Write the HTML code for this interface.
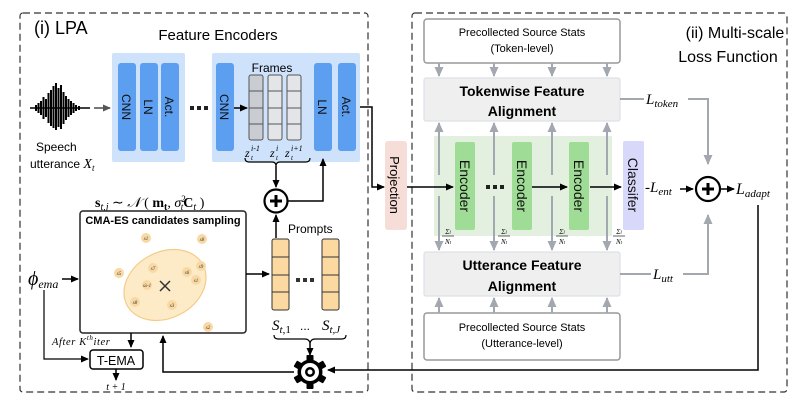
<!DOCTYPE html>
<html><head><meta charset="utf-8"><style>
body{margin:0;background:#fff}
svg{display:block;font-family:"Liberation Sans",sans-serif}
.m{font-family:"Liberation Serif",serif;font-style:italic}
</style></head><body>
<svg width="792" height="401" viewBox="0 0 792 401" xmlns="http://www.w3.org/2000/svg">
<defs>
<marker id="a" markerWidth="8" markerHeight="8" refX="7" refY="4" orient="auto" markerUnits="userSpaceOnUse"><path d="M0,0.5 L8,4 L0,7.5z" fill="#000"/></marker>
<marker id="g" markerWidth="10" markerHeight="9" refX="9" refY="4.5" orient="auto" markerUnits="userSpaceOnUse"><path d="M0,0 L10,4.5 L0,9z" fill="#a3a8b0"/></marker>
<marker id="d" markerWidth="8" markerHeight="8" refX="7" refY="4" orient="auto" markerUnits="userSpaceOnUse"><path d="M0,0.5 L8,4 L0,7.5z" fill="#555"/></marker>
</defs>
<rect x="20" y="13" width="348" height="379" rx="3" fill="none" stroke="#333" stroke-width="1.2" stroke-dasharray="7,4"/>
<rect x="412" y="13" width="375" height="379" rx="3" fill="none" stroke="#333" stroke-width="1.2" stroke-dasharray="7,4"/>
<text x="34" y="34" font-size="18">(i) LPA</text>
<text x="218" y="40" font-size="15" text-anchor="middle">Feature Encoders</text>
<text x="735" y="38" font-size="16" text-anchor="middle">(ii) Multi-scale</text>
<text x="728" y="62" font-size="16" text-anchor="middle">Loss Function</text>

<!-- waveform -->
<g stroke="#000" stroke-width="2">
<line x1="30" y1="108" x2="90" y2="108" stroke-width="1.5"/>
<line x1="36" y1="105" x2="36" y2="111"/><line x1="38.5" y1="103" x2="38.5" y2="113"/><line x1="41" y1="101" x2="41" y2="115"/>
<line x1="43.5" y1="97" x2="43.5" y2="119"/><line x1="46" y1="99" x2="46" y2="117"/><line x1="48.5" y1="93" x2="48.5" y2="123"/>
<line x1="51" y1="90" x2="51" y2="126"/><line x1="53.5" y1="86" x2="53.5" y2="128"/><line x1="56" y1="83" x2="56" y2="130"/>
<line x1="58.5" y1="88" x2="58.5" y2="127"/><line x1="61" y1="85" x2="61" y2="129"/><line x1="63.5" y1="92" x2="63.5" y2="124"/>
<line x1="66" y1="96" x2="66" y2="120"/><line x1="68.5" y1="99" x2="68.5" y2="117"/><line x1="71" y1="101" x2="71" y2="115"/>
<line x1="73.5" y1="103" x2="73.5" y2="113"/><line x1="76" y1="105" x2="76" y2="111"/><line x1="79" y1="106" x2="79" y2="110"/>
</g>
<line x1="94" y1="108" x2="110" y2="108" stroke="#555" stroke-width="1.6" marker-end="url(#d)"/>
<text x="36" y="151" font-size="12">Speech</text>
<text x="30" y="168" font-size="12">utterance <tspan class="m" font-size="14">X<tspan font-size="9" dy="3">t</tspan></tspan></text>

<rect x="112" y="53" width="73" height="109" rx="2" fill="#cfe2fb"/>
<rect x="212" y="53" width="148" height="109" rx="2" fill="#cfe2fb"/>
<g fill="#5c9ef0">
<rect x="118" y="63" width="18" height="88" rx="3"/><rect x="140" y="63" width="18" height="88" rx="3"/><rect x="161" y="63" width="18" height="88" rx="3"/>
<rect x="216" y="63" width="18" height="88" rx="3"/><rect x="314" y="63" width="18" height="88" rx="3"/><rect x="338" y="63" width="18" height="88" rx="3"/>
</g>
<g font-size="12" fill="#111">
<text transform="translate(122,107) rotate(90)" text-anchor="middle">CNN</text>
<text transform="translate(144,107) rotate(90)" text-anchor="middle">LN</text>
<text transform="translate(165,107) rotate(90)" text-anchor="middle">Act.</text>
<text transform="translate(220,107) rotate(90)" text-anchor="middle">CNN</text>
<text transform="translate(318,107) rotate(90)" text-anchor="middle">LN</text>
<text transform="translate(342,107) rotate(90)" text-anchor="middle">Act.</text>
</g>
<g fill="#222"><rect x="190" y="106" width="4" height="4"/><rect x="197" y="106" width="4" height="4"/><rect x="204" y="106" width="4" height="4"/></g>
<line x1="234" y1="108" x2="247" y2="108" stroke="#000" stroke-width="1.5" marker-end="url(#a)"/>
<text x="272" y="72" font-size="12" text-anchor="middle">Frames</text>
<g stroke="#555" stroke-width="1">
<rect x="249" y="75" width="14" height="65" rx="2" fill="#c9ccd1"/>
<rect x="268" y="75" width="14" height="65" rx="2" fill="#e4e5e8"/>
<rect x="287" y="75" width="14" height="65" rx="2" fill="#e4e5e8"/>
<path d="M249,91h14M249,108h14M249,124h14M268,91h14M268,108h14M268,124h14M287,91h14M287,108h14M287,124h14"/>
</g>
<g class="m">
<text x="245" y="157" font-size="12">z</text><text x="251" y="151" font-size="8">i-1</text><text x="251" y="160" font-size="7">t</text>
<text x="270" y="157" font-size="12">z</text><text x="276" y="151" font-size="8">i</text><text x="276" y="160" font-size="7">t</text>
<text x="285" y="157" font-size="12">z</text><text x="291" y="151" font-size="8">i+1</text><text x="291" y="160" font-size="7">t</text>
</g>
<path d="M245,158 q0,4 4,4 h23 q4,0 4,4 q0,-4 4,-4 h26 q4,0 4,-4" fill="none" stroke="#000" stroke-width="1.2"/>
<line x1="276" y1="166" x2="276" y2="187" stroke="#000" stroke-width="1.5" marker-end="url(#a)"/>
<circle cx="276" cy="201" r="11.5" fill="#fff" stroke="#000" stroke-width="2.2"/>
<path d="M270,201h12M276,195v12" stroke="#000" stroke-width="3"/>
<polyline points="288,201 323,201 323,159" fill="none" stroke="#000" stroke-width="1.5" marker-end="url(#a)"/>
<polyline points="360,107 372,107 372,187 384,187" fill="none" stroke="#000" stroke-width="1.5" marker-end="url(#a)"/>

<text x="95" y="207" font-size="14" font-family="Liberation Serif,serif"><tspan font-weight="bold">s</tspan><tspan font-style="italic" font-size="10" dy="3">t,j</tspan><tspan dy="-3"> ∼ </tspan><tspan font-style="italic">𝒩</tspan> ( <tspan font-weight="bold">m</tspan><tspan font-size="10" font-weight="bold" dy="3">t</tspan><tspan dy="-3">, </tspan><tspan font-style="italic">σ</tspan><tspan font-size="9" dy="-5">2</tspan><tspan font-size="9" dx="-5" dy="8" font-style="italic">t</tspan><tspan dy="-3" font-weight="bold">C</tspan><tspan font-size="10" font-style="italic" dy="3">t</tspan><tspan dy="-3"> )</tspan></text>
<rect x="80" y="211" width="166" height="122" rx="3" fill="#fff" stroke="#222" stroke-width="1.5"/>
<text x="163" y="224" font-size="11" font-weight="bold" text-anchor="middle">CMA-ES candidates sampling</text>
<ellipse cx="165" cy="285" rx="43" ry="33" transform="rotate(-28 165 285)" fill="#fdebc8" stroke="#f4cc8a" stroke-width="1.2"/>
<g fill="#f9d9a3">
<circle cx="146" cy="238" r="5"/><circle cx="202" cy="239" r="5"/><circle cx="119" cy="273" r="5"/><circle cx="153" cy="268" r="5"/>
<circle cx="187" cy="272" r="5"/><circle cx="201" cy="266" r="5"/><circle cx="196" cy="280" r="5"/><circle cx="147" cy="285" r="5"/>
<circle cx="135" cy="302" r="5"/><circle cx="172" cy="305" r="5"/><circle cx="208" cy="327" r="5"/>
</g>
<g class="m" font-size="5" text-anchor="middle" fill="#333">
<text x="146" y="240">s1</text><text x="202" y="241">s8</text><text x="119" y="275">s5</text><text x="153" y="270">s7</text>
<text x="187" y="274">s6</text><text x="201" y="268">s9</text><text x="196" y="282">s1</text><text x="147" y="287">sλ-1</text>
<text x="135" y="304">s8</text><text x="172" y="307">s3</text><text x="208" y="329">s2</text>
</g>
<path d="M160,281l10,10M170,281l-10,10" stroke="#333" stroke-width="1.5"/>
<line x1="246" y1="274" x2="269" y2="274" stroke="#000" stroke-width="1.5" marker-end="url(#a)"/>

<line x1="276" y1="238" x2="276" y2="215" stroke="#000" stroke-width="1.5" marker-end="url(#a)"/>
<text x="288" y="233" font-size="12">Prompts</text>
<g stroke="#333" stroke-width="1" fill="#fbd9a1">
<rect x="272" y="239" width="17" height="71" rx="2"/><rect x="322" y="239" width="17" height="71" rx="2"/>
<path d="M272,257h17M272,275h17M272,292h17M322,257h17M322,275h17M322,292h17" fill="none"/>
</g>
<g fill="#333"><rect x="296" y="278" width="4" height="4"/><rect x="303" y="278" width="4" height="4"/><rect x="310" y="278" width="4" height="4"/></g>
<text x="272" y="330" font-size="15" font-family="Liberation Serif,serif"><tspan font-style="italic">S</tspan><tspan font-size="11" dy="3"><tspan font-style="italic">t</tspan>,1</tspan></text>
<text x="305" y="330" font-size="12" text-anchor="middle">...</text>
<text x="322" y="330" font-size="15" font-family="Liberation Serif,serif"><tspan font-style="italic">S</tspan><tspan font-size="11" dy="3" font-style="italic">t,J</tspan></text>
<path d="M274,335 q0,4 4,4 h27 q4,0 5,4 q1,-4 5,-4 h27 q4,0 4,-4" fill="none" stroke="#000" stroke-width="1.2"/>
<line x1="310" y1="343" x2="310" y2="355" stroke="#000" stroke-width="1.5" marker-end="url(#a)"/>
<g transform="translate(310,372)">
<g fill="#000">
<rect x="-3.5" y="-17" width="7" height="34" rx="1"/>
<rect x="-3.5" y="-17" width="7" height="34" rx="1" transform="rotate(60)"/>
<rect x="-3.5" y="-17" width="7" height="34" rx="1" transform="rotate(120)"/>
</g>
<circle r="12.5" fill="#000"/><circle r="9" fill="#fff"/><circle r="5" fill="#000"/><circle r="2.5" fill="#fff"/>
</g>
<polyline points="758,205 758,370 328,370" fill="none" stroke="#000" stroke-width="1.5" marker-end="url(#a)"/>
<polyline points="294,372 163,372 163,336" fill="none" stroke="#000" stroke-width="1.5" marker-end="url(#a)"/>

<text x="28" y="285" font-size="20" font-family="Liberation Serif,serif" font-style="italic">ϕ<tspan font-size="12" dy="3">ema</tspan></text>
<line x1="62" y1="279" x2="78" y2="279" stroke="#000" stroke-width="1.5" marker-end="url(#a)"/>
<polyline points="44,290 44,359 88,359" fill="none" stroke="#000" stroke-width="1.2" marker-end="url(#a)"/>
<text x="52" y="345" class="m" font-size="10.5" letter-spacing="0.6">After K<tspan font-size="7" dy="-5">th</tspan><tspan dy="5">iter</tspan></text>
<line x1="131" y1="333" x2="131" y2="347" stroke="#000" stroke-width="1.5" marker-end="url(#a)"/>
<rect x="90" y="350" width="53" height="19" rx="3" fill="#fff" stroke="#000" stroke-width="1.5"/>
<text x="116" y="365" font-size="12.5" text-anchor="middle">T-EMA</text>
<line x1="116" y1="369" x2="116" y2="380" stroke="#000" stroke-width="1.5" marker-end="url(#a)"/>
<text x="116" y="390" class="m" font-size="10" text-anchor="middle">t + 1</text>

<rect x="385" y="141" width="22" height="89" rx="3" fill="#f7ddd8"/>
<text transform="translate(390,185) rotate(90)" font-size="13" text-anchor="middle">Projection</text>

<rect x="424" y="19" width="196" height="44" rx="3" fill="#fff" stroke="#999" stroke-width="1.5"/>
<text x="522" y="36" font-size="11" text-anchor="middle">Precollected Source Stats</text>
<text x="522" y="52" font-size="11" text-anchor="middle">(Token-level)</text>
<rect x="424" y="78" width="196" height="43" rx="2" fill="#efefef" stroke="#dde1e8" stroke-width="1.2"/>
<text x="522" y="96" font-size="14" font-weight="bold" text-anchor="middle">Tokenwise Feature</text>
<text x="522" y="116" font-size="14" font-weight="bold" text-anchor="middle">Alignment</text>
<rect x="434" y="136" width="178" height="100" fill="#e3f0df"/>
<rect x="424" y="252" width="196" height="44" rx="2" fill="#efefef" stroke="#dde1e8" stroke-width="1.2"/>
<text x="522" y="270" font-size="14" font-weight="bold" text-anchor="middle">Utterance Feature</text>
<text x="522" y="291" font-size="14" font-weight="bold" text-anchor="middle">Alignment</text>
<rect x="424" y="313" width="196" height="47" rx="3" fill="#fff" stroke="#999" stroke-width="1.5"/>
<text x="522" y="331" font-size="11" text-anchor="middle">Precollected Source Stats</text>
<text x="522" y="347" font-size="11" text-anchor="middle">(Utterance-level)</text>
<g stroke="#a3a8b0" stroke-width="2" fill="none">
<line x1="439" y1="63" x2="439" y2="76" marker-end="url(#g)"/><line x1="494" y1="63" x2="494" y2="76" marker-end="url(#g)"/>
<line x1="552" y1="63" x2="552" y2="76" marker-end="url(#g)"/><line x1="607" y1="63" x2="607" y2="76" marker-end="url(#g)"/>
<line x1="439" y1="175" x2="439" y2="123" marker-end="url(#g)"/><line x1="494" y1="175" x2="494" y2="123" marker-end="url(#g)"/>
<line x1="552" y1="175" x2="552" y2="123" marker-end="url(#g)"/><line x1="607" y1="175" x2="607" y2="123" marker-end="url(#g)"/>
<line x1="439" y1="196" x2="439" y2="250" marker-end="url(#g)"/><line x1="494" y1="196" x2="494" y2="250" marker-end="url(#g)"/>
<line x1="552" y1="196" x2="552" y2="250" marker-end="url(#g)"/><line x1="607" y1="196" x2="607" y2="250" marker-end="url(#g)"/>
<line x1="439" y1="313" x2="439" y2="298" marker-end="url(#g)"/><line x1="494" y1="313" x2="494" y2="298" marker-end="url(#g)"/>
<line x1="552" y1="313" x2="552" y2="298" marker-end="url(#g)"/><line x1="607" y1="313" x2="607" y2="298" marker-end="url(#g)"/>
<polyline points="620,99 708,99 708,164" marker-end="url(#g)"/>
<polyline points="620,274 708,274 708,215" marker-end="url(#g)"/>
</g>
<g fill="#fff"><rect x="644" y="90" width="44" height="18"/><rect x="651" y="265" width="32" height="18"/></g>
<text x="646" y="104" font-size="15" class="m">L<tspan font-size="11" dy="3">token</tspan></text>
<text x="653" y="279" font-size="15" class="m">L<tspan font-size="11" dy="3">utt</tspan></text>
<g fill="#9fdc95">
<rect x="455" y="142" width="20" height="88" rx="2"/><rect x="512" y="142" width="20" height="88" rx="2"/><rect x="569" y="142" width="20" height="88" rx="2"/>
</g>
<rect x="623" y="141" width="21" height="89" rx="2" fill="#d8d8fb"/>
<g font-size="14" fill="#111">
<text transform="translate(460,186) rotate(90)" text-anchor="middle">Encoder</text>
<text transform="translate(517,186) rotate(90)" text-anchor="middle">Encoder</text>
<text transform="translate(574,186) rotate(90)" text-anchor="middle">Encoder</text>
<text transform="translate(628,185) rotate(90)" text-anchor="middle">Classifer</text>
</g>
<g stroke="#000" stroke-width="1.5">
<line x1="407" y1="187" x2="453" y2="187" marker-end="url(#a)"/>
<line x1="532" y1="187" x2="567" y2="187" marker-end="url(#a)"/>
<line x1="590" y1="187" x2="621" y2="187" marker-end="url(#a)"/>
</g>
<g fill="#222"><rect x="486" y="185" width="4" height="4"/><rect x="493" y="185" width="4" height="4"/><rect x="500" y="185" width="4" height="4"/></g>
<g class="m" font-size="7" text-anchor="middle">
<text x="448" y="234">Σ<tspan font-size="5">l</tspan></text><line x1="442" y1="236" x2="454" y2="236" stroke="#000" stroke-width="0.6"/><text x="448" y="244">N<tspan font-size="5">t</tspan></text>
<text x="504" y="234">Σ<tspan font-size="5">l</tspan></text><line x1="498" y1="236" x2="510" y2="236" stroke="#000" stroke-width="0.6"/><text x="504" y="244">N<tspan font-size="5">t</tspan></text>
<text x="562" y="234">Σ<tspan font-size="5">l</tspan></text><line x1="556" y1="236" x2="568" y2="236" stroke="#000" stroke-width="0.6"/><text x="562" y="244">N<tspan font-size="5">t</tspan></text>
<text x="619" y="234">Σ<tspan font-size="5">l</tspan></text><line x1="613" y1="236" x2="625" y2="236" stroke="#000" stroke-width="0.6"/><text x="619" y="244">N<tspan font-size="5">t</tspan></text>
</g>
<text x="645" y="192" font-size="15" class="m">-L<tspan font-size="11" dy="3">ent</tspan></text>
<line x1="680" y1="189" x2="693" y2="189" stroke="#000" stroke-width="1.5" marker-end="url(#a)"/>
<circle cx="708" cy="189" r="12" fill="#fff" stroke="#000" stroke-width="2.2"/>
<path d="M702,189h12M708,183v12" stroke="#000" stroke-width="3"/>
<line x1="720" y1="189" x2="734" y2="189" stroke="#000" stroke-width="1.5" marker-end="url(#a)"/>
<text x="736" y="194" font-size="16" class="m">L<tspan font-size="11" dy="3">adapt</tspan></text>
</svg>
</body></html>
